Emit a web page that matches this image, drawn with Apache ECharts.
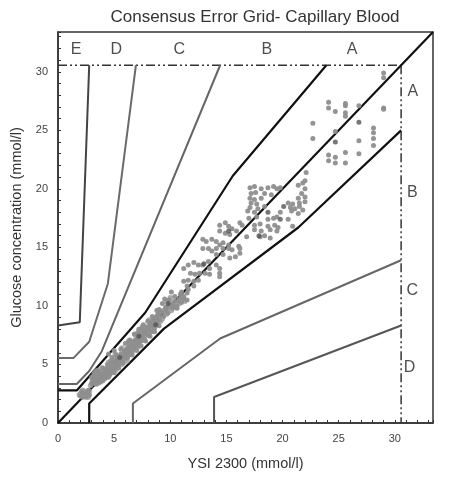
<!DOCTYPE html>
<html><head><meta charset="utf-8">
<script src="https://cdn.jsdelivr.net/npm/echarts@6/dist/echarts.min.js"></script>
<style>html,body{margin:0;padding:0;background:#fff}#c{width:453px;height:479px}</style>
</head><body><div id="c"></div>
<script>
var titleText = 'Consensus Error Grid- Capillary Blood';
var xName = 'YSI 2300 (mmol/l)';
var yName = 'Glucose concentration (mmol/l)';
var axisMax = 33.4;

var diagonal = [[0,0],[33.4,33.4]];
var aUpper = [[0,2.78],[1.67,2.78],[7.78,9.44],[15.56,21.1],[23.9,30.56]];
var aLower = [[2.78,0],[2.78,1.67],[9.44,8.06],[21.4,16.7],[30.56,25.0]];
var bUpper = [[0,3.33],[1.67,3.33],[2.78,4.44],[3.89,6.11],[14.44,30.56]];
var bLower = [[6.67,0],[6.67,1.67],[14.44,7.22],[30.56,13.9]];
var cUpper = [[0,5.56],[1.39,5.56],[2.78,6.94],[4.44,11.9],[6.94,30.56]];
var cLower = [[13.9,0],[13.9,2.22],[30.56,8.33]];
var dUpper = [[0,8.33],[1.94,8.61],[2.78,30.56]];
var limitH = [[0,30.56],[30.56,30.56]];
var limitV = [[30.56,30.56],[30.56,0]];

var zoneLabels = [
  ['E',1.6,31.9],['D',5.2,31.9],['C',10.8,31.9],['B',18.6,31.9],['A',26.2,31.9],
  ['A',31.6,28.3],['B',31.55,19.65],['C',31.55,11.3],['D',31.3,4.7]
];

var pointsBand = [
  [2.0,2.5],[2.2,2.2],[2.4,2.7],[2.6,2.4],[2.8,2.7],[2.2,2.8],[2.5,2.5],[2.7,2.2],[1.9,2.4],
  [2.9,3.2],[3.15,3.7],[3.4,4.1],[3.65,3.8],[3.9,4.4],[4.15,3.9],[4.4,4.7],[4.65,4.2],[4.9,4.8],[5.15,4.5],
  [5.4,5.5],[5.65,5.0],[5.9,5.6],[6.15,5.3],[6.4,6.6],[6.65,6.3],[6.9,6.7],[7.15,6.5],[7.4,7.7],[7.65,7.1],
  [7.9,7.6],[8.15,7.9],[8.4,8.7],[8.65,8.4],[8.9,8.9],[9.15,8.7],[9.4,9.6],[9.65,9.3],[9.9,10.0],
  [3.05,3.6],[3.3,3.4],[3.55,4.1],[3.8,3.9],[4.05,4.5],[4.3,4.3],[4.55,4.8],[4.8,4.9],[5.05,5.4],[5.3,5.0],
  [5.55,5.7],[5.8,5.4],[6.05,6.1],[6.3,6.5],[6.55,6.4],[6.8,7.0],[7.05,6.9],[7.3,7.3],[7.55,7.6],[7.8,8.0],
  [8.05,8.2],[8.3,8.1],[8.55,8.6],[8.8,9.1],[9.05,9.2],[9.3,8.9],[9.55,9.5],[9.8,9.8],
  [3.2,3.9],[3.5,3.7],[3.8,4.2],[4.1,4.1],[4.4,4.5],[4.7,4.6],[5.0,5.0],[5.3,5.4],[5.6,5.6],[5.9,5.9],
  [6.2,6.1],[6.5,6.3],[6.8,6.7],[7.1,7.0],[7.4,7.3],[7.7,7.6],[8.0,8.0],[8.3,8.4],[8.6,8.7],[8.9,9.0],
  [10.1,9.6],[10.3,10.3],[10.5,9.9],[10.8,10.2],[11.0,10.7],[11.3,10.4],[9.7,10.4],[10.0,10.7],
  [3.3,4.4],[3.9,4.7],[4.5,5.2],[5.1,5.9],[5.7,6.4],[6.3,7.0],[6.9,7.5],[7.5,8.2],[8.1,8.8]
];
var pointsLight = [
  [2.0,2.3],[2.2,2.5],[2.4,2.3],[2.6,2.6],[2.8,2.4],[2.1,2.7],[2.5,2.2],[2.7,2.8],[2.3,2.4],[2.6,2.3],
  [3.0,3.4],[3.1,3.8],[3.2,3.5],[3.3,4.0],[3.4,3.6],[3.5,3.9],[3.6,3.4],[3.7,4.2],[3.8,3.7],[3.9,4.0],
  [4.0,3.6],[4.1,4.3],[4.2,4.0],[4.3,4.6],[4.4,4.2],[4.5,3.9],[4.6,4.5],[4.7,4.8],[4.8,4.4],[4.9,5.1],
  [5.0,4.6],[5.1,5.3],[5.2,4.9],[5.3,5.6],[5.4,5.0],[5.5,5.4],[5.6,5.9],[5.7,5.2],[5.8,5.7],[5.9,6.1],
  [6.0,5.5],[6.1,6.0],[6.2,6.4],[6.3,5.8],[6.4,6.2],[6.5,6.6],[6.6,6.0],[6.7,6.9],[6.8,6.4],[6.9,7.1],
  [7.0,6.6],[7.1,7.3],[7.2,6.9],[7.3,7.6],[7.4,7.0],[7.5,7.4],[7.6,7.9],[7.7,7.2],[7.8,7.7],[7.9,8.2],
  [8.0,7.5],[8.1,8.0],[8.2,8.5],[8.3,7.8],[8.4,8.3],[8.5,8.8],[8.6,8.1],[8.7,9.0],[8.8,8.5],[8.9,9.3],
  [9.0,8.8],[9.2,9.5],[9.4,9.1],[9.6,9.8],[9.8,9.4],[10.0,10.1],[10.2,9.8],[10.4,10.4],[10.6,10.0],[10.8,10.6],
  [11.0,10.3],[11.2,10.8],[11.5,10.5],
  [3.2,4.2],[3.6,4.4],[4.0,4.7],[4.4,5.0],[4.8,5.6],[5.2,5.8],[5.6,6.3],[6.0,6.8],[6.4,7.1],[6.8,7.6],
  [7.2,8.0],[7.6,8.4],[8.0,8.7],[8.4,9.1],[8.8,9.6],[3.4,3.3],[3.8,3.5],[4.2,3.8],[4.6,4.1],[5.0,4.3],
  [5.4,4.7],[5.8,5.1],[6.2,5.6],[6.6,5.8],[7.0,6.2],[7.4,6.6],[7.8,7.0],[8.2,7.4],[8.6,7.8],[9.0,8.3],
  [4.5,5.9],[5.0,6.2],[3.0,3.9],[3.5,4.5],[6.3,6.9],[7.5,8.1],[5.3,5.2],[6.1,6.3],[4.7,5.3],[7.1,7.7],
  [9.0,9.7],[9.3,10.2],[9.6,9.9],[9.9,10.5],[10.2,10.1],[10.4,10.8],[10.7,10.4],[10.9,11.0],[11.2,10.6],
  [11.5,11.1],[9.5,10.6],[10.1,11.2],[10.6,9.8],
  [11.2,13.2],[11.6,13.5],[12.1,13.7],[12.5,13.5],[12.9,13.5],[13.4,13.8],[13.5,13.2],[14.1,13.5],[14.4,13.2],
  [14.4,12.8],[14.4,12.5],[11.8,12.8],[12.2,12.7],[12.6,12.8],[13.1,12.8],[13.5,12.7],[11.2,12.1],[11.6,12.2],
  [12.1,12.1],[12.5,12.2],[11.5,11.7],[12.1,11.7],[11.0,11.2],[11.6,11.4],
  [12.9,15.7],[13.2,15.5],[13.7,15.7],[14.1,15.5],[14.4,15.2],[14.7,15.4],[15.2,15.2],[12.9,14.9],[13.4,14.9],
  [13.7,14.7],[14.1,14.9],[14.7,14.9],[15.2,14.9],[15.5,14.8],[16.2,14.9],[16.2,14.5],[14.1,14.4],[14.7,14.4],
  [15.3,14.1],[15.8,14.2],
  [14.4,16.9],[14.9,17.1],[15.2,16.8],[15.5,16.6],[14.4,16.4],[14.9,16.2],[15.3,16.1],[15.9,16.4],[16.2,17.1],
  [17.1,20.1],[17.5,20.2],[18.1,20.0],[18.7,20.1],[19.2,20.2],[19.5,20.0],[19.8,20.1],
  [21.4,20.3],[21.8,20.5],[22.0,20.0],[22.0,20.7],[22.1,21.4],
  [17.2,19.6],[17.6,19.7],[18.4,19.6],[19.0,19.5],[21.7,19.6],
  [17.1,19.2],[17.5,19.1],[18.1,19.2],[21.4,19.2],[22.0,19.3],
  [17.2,18.8],[17.7,18.7],[20.5,18.8],[20.9,18.7],[21.5,18.8],[22.0,18.9],
  [17.1,18.4],[17.8,18.3],[18.4,18.5],[20.7,18.4],[21.1,18.3],[21.5,18.5],[21.8,18.2],
  [16.9,18.1],[17.5,18.0],[19.8,18.0],[20.8,18.1],[21.4,17.9],
  [17.0,17.5],[17.7,17.6],[18.7,17.4],[19.2,17.5],[19.5,17.6],[20.5,17.4],
  [16.4,16.9],[17.5,16.9],[18.0,17.0],[18.7,16.8],[19.3,16.9],[19.6,16.7],[20.9,16.8],
  [17.5,16.5],[18.1,16.4],[18.9,16.5],[19.5,16.4],
  [16.8,15.9],[18.0,15.9],[18.4,16.0],[18.9,15.8],[16.1,15.1],
  [29.0,29.9],[29.0,29.5],[24.1,27.4],[24.1,26.9],[24.7,26.6],[25.6,27.3],[25.6,27.1],[25.6,26.5],[25.6,26.2],
  [26.8,27.1],[29.0,26.9],[29.0,26.8],[22.7,25.6],[22.7,24.3],[24.7,24.9],[28.1,25.2],[28.1,24.8],
  [28.1,24.3],[28.1,23.7],[25.6,23.1],[26.8,23.0],[24.1,22.9],[24.1,22.4],[24.7,22.7],[24.7,22.2],[25.6,22.2],
  [26.8,24.1]
];
var pointsDark = [
  [26.8,25.7],[24.7,24.0],[18.7,18.0],[19.8,17.4],[17.9,16.0],[20.1,18.5],[15.2,16.4],[13.0,13.6],
  [9.8,10.2],[8.7,8.4],[7.2,7.4],[5.5,5.6]
];

function lineSeries(data, color, width, type) {
  return {type:'line', data:data, symbol:'none', silent:true, animation:false,
    lineStyle:{color:color, width:width, type:type||'solid'}, z:3};
}

var chart = echarts.init(document.getElementById('c'), null, {renderer:'canvas'});
var axisCommon = {
  type:'value', min:0, max:axisMax, interval:1,
  nameLocation:'middle',
  nameTextStyle:{color:'#333', fontSize:14.5, fontFamily:'Liberation Sans'},
  axisLine:{show:true, lineStyle:{color:'#333', width:1.5}},
  axisTick:{show:true, inside:true, length:3, lineStyle:{color:'#333'}},
  axisLabel:{color:'#444', fontSize:11, fontFamily:'Liberation Sans', margin:10,
    formatter:function(v){ return (v % 5 === 0 && v <= 30) ? String(v) : ''; }},
  splitLine:{show:false}
};
chart.setOption({
  animation:false,
  grid:{left:58, right:20, top:32, bottom:56, show:true, borderColor:'#333', borderWidth:1.5},
  graphic:[{type:'text', x:255, y:17, style:{text:titleText, fill:'#333', fontSize:17,
    fontFamily:'Liberation Sans', textAlign:'center', textVerticalAlign:'middle'}}],
  xAxis: Object.assign({}, axisCommon, {name:xName, nameGap:33}),
  yAxis: Object.assign({}, axisCommon, {name:yName, nameGap:32}),
  series:[
    lineSeries(limitH, '#333', 1.5, [9,3,2,3,2,3]),
    lineSeries(limitV, '#333', 1.5, [9,3,2,3,2,3]),
    lineSeries(dUpper, '#444', 2),
    lineSeries(cUpper, '#6a6a6a', 2),
    lineSeries(bUpper, '#666', 2),
    lineSeries(cLower, '#555', 2),
    lineSeries(bLower, '#666', 2),
    {type:'scatter', data:pointsBand, symbolSize:5.5, silent:true, z:4,
      itemStyle:{color:'#999'}},
    {type:'scatter', data:pointsLight, symbolSize:5, silent:true, z:4,
      itemStyle:{color:'#8e8e8e', opacity:0.95}},
    {type:'scatter', data:pointsDark, symbolSize:5, silent:true, z:4,
      itemStyle:{color:'#555'}},
    lineSeries(aUpper, '#111', 2.2),
    lineSeries(aLower, '#111', 2.2),
    lineSeries(diagonal, '#111', 2.2),
    {type:'scatter', symbolSize:0, silent:true, z:6,
      data:zoneLabels.map(function(d){ return {name:d[0], value:[d[1], d[2]]}; }),
      label:{show:true, position:'inside', formatter:'{b}', color:'#222', fontSize:16,
        fontFamily:'Liberation Sans'}}
  ]
});
</script></body></html>
